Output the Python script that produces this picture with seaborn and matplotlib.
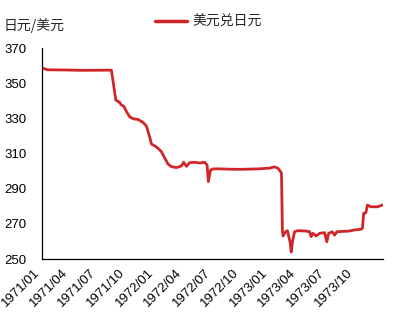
import matplotlib
matplotlib.use("Agg")
import matplotlib.pyplot as plt
import matplotlib.dates as mdates
import seaborn as sns
import pandas as pd

dates = [
    "1971-01-01", "1971-01-08", "1971-01-20", "1971-03-15", "1971-05-10", "1971-08-12",
    "1971-08-26", "1971-09-07", "1971-09-13", "1971-09-21", "1971-09-29", "1971-10-09",
    "1971-10-15", "1971-10-25", "1971-11-05", "1971-11-21", "1971-12-02", "1971-12-08",
    "1971-12-13", "1971-12-18", "1971-12-29", "1972-01-08", "1972-01-19", "1972-01-30",
    "1972-02-09", "1972-02-20", "1972-03-07", "1972-03-23", "1972-03-30", "1972-04-08",
    "1972-04-18", "1972-05-04", "1972-05-20", "1972-06-05", "1972-06-13", "1972-06-17",
    "1972-06-24", "1972-07-02", "1972-07-20", "1972-08-20", "1972-09-25", "1972-10-25",
    "1972-11-28", "1972-12-30", "1973-01-10", "1973-01-15", "1973-01-26", "1973-02-03",
    "1973-02-06", "1973-02-09", "1973-02-11", "1973-02-19", "1973-02-25", "1973-03-02",
    "1973-03-06", "1973-03-09", "1973-03-14", "1973-03-20", "1973-03-30", "1973-04-26",
    "1973-05-07", "1973-05-12", "1973-05-17", "1973-05-28", "1973-06-08", "1973-06-24",
    "1973-07-01", "1973-07-07", "1973-07-18", "1973-07-26", "1973-08-02", "1973-09-11",
    "1973-09-27", "1973-10-18", "1973-10-23", "1973-10-27", "1973-11-03", "1973-11-08",
    "1973-11-19", "1973-12-10", "1973-12-26",
]
usd_jpy = [
    358.0, 358.3, 357.6, 357.5, 357.3, 357.4,
    340.4, 339.1, 337.6, 336.8, 333.8, 331.0,
    330.2, 329.6, 329.4, 327.7, 325.6, 322.0,
    319.0, 315.4, 314.3, 313.0, 311.0, 307.3,
    304.0, 302.5, 302.0, 302.9, 305.0, 302.7,
    304.8, 305.0, 304.6, 305.0, 303.5, 294.0,
    300.6, 301.2, 301.3, 301.1, 301.0, 301.1,
    301.3, 301.7, 302.2, 302.4, 301.6, 299.7,
    298.7, 266.5, 263.1, 265.5, 266.1, 262.3,
    259.3, 254.0, 260.8, 265.5, 266.1, 265.9,
    265.5, 262.7, 264.6, 263.1, 264.6, 265.0,
    259.8, 264.6, 265.5, 263.6, 265.5, 265.9,
    266.5, 266.9, 267.5, 276.0, 276.3, 280.7,
    279.7, 279.7, 280.7,
]
series_name = "美元兑日元"
y_label = "日元/美元"
y_ticks = [250, 270, 290, 310, 330, 350, 370]

df = pd.DataFrame({"date": pd.to_datetime(dates), "value": usd_jpy})

sns.set_style("white")
plt.rcParams["font.family"] = ["Liberation Sans", "Noto Sans CJK SC", "DejaVu Sans"]

fig = plt.figure(figsize=(3.95, 3.2), dpi=100)
ax = fig.add_axes([0.1056, 0.1906, 0.8634, 0.6594])

red = "#d0262a"
sns.lineplot(data=df, x="date", y="value", ax=ax, color=red, linewidth=2.0,
             label=series_name)

ax.set_xlim(pd.Timestamp("1971-01-01"), pd.Timestamp("1973-12-27"))
ax.set_ylim(250, 370)
ax.set_yticks(y_ticks)
ax.xaxis.set_major_locator(mdates.MonthLocator(bymonth=[1, 4, 7, 10]))
ax.xaxis.set_major_formatter(mdates.DateFormatter("%Y/%m"))
for lab in ax.get_xticklabels():
    lab.set_rotation(45)
    lab.set_ha("right")
ax.tick_params(axis="x", direction="out", length=3.5, width=0.8, colors="black",
               labelsize=9.5, pad=2)
ax.tick_params(axis="y", length=0, labelsize=9.5, pad=11, colors="black")
ax.set_xlabel("")
ax.set_ylabel("")
for s in ["top", "right"]:
    ax.spines[s].set_visible(False)
for s in ["left", "bottom"]:
    ax.spines[s].set_color("black")
    ax.spines[s].set_linewidth(0.9)

fig.text(0.008, 1 - 26 / 320, y_label, fontsize=10, va="center", ha="left",
         family=["Noto Sans CJK SC", "DejaVu Sans"])

leg = ax.legend(loc="center left", bbox_to_anchor=(148 / 395, 1 - 22 / 320),
                bbox_transform=fig.transFigure, frameon=False, borderpad=0,
                handlelength=2.3, handletextpad=0.4,
                prop={"family": ["Noto Sans CJK SC", "DejaVu Sans"], "size": 10})
for line in leg.get_lines():
    line.set_linewidth(2.5)

fig.savefig("out.png", dpi=100)
